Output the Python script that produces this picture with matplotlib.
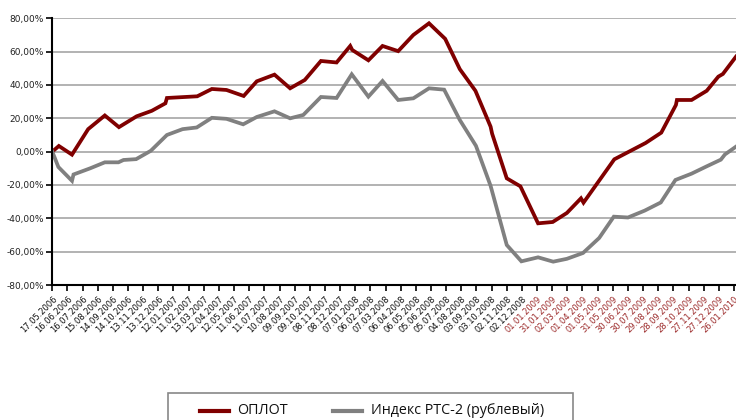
import matplotlib
matplotlib.use("Agg")
import matplotlib.pyplot as plt
from matplotlib.lines import Line2D
from matplotlib.patches import Rectangle

# dates on the x axis, one tick every 30 days starting 17.05.2006
tick_labels = [
    "17.05.2006", "16.06.2006", "16.07.2006", "15.08.2006", "14.09.2006",
    "14.10.2006", "13.11.2006", "13.12.2006", "12.01.2007", "11.02.2007",
    "13.03.2007", "12.04.2007", "12.05.2007", "11.06.2007", "11.07.2007",
    "10.08.2007", "09.09.2007", "09.10.2007", "08.11.2007", "08.12.2007",
    "07.01.2008", "06.02.2008", "07.03.2008", "06.04.2008", "06.05.2008",
    "05.06.2008", "05.07.2008", "04.08.2008", "03.09.2008", "03.10.2008",
    "02.11.2008", "02.12.2008", "01.01.2009", "31.01.2009", "02.03.2009",
    "01.04.2009", "01.05.2009", "31.05.2009", "30.06.2009", "30.07.2009",
    "29.08.2009", "28.09.2009", "28.10.2009", "27.11.2009", "27.12.2009",
    "26.01.2010",
]
first_red_label = "01.01.2009"

series_names = ["ОПЛОТ", "Индекс РТС-2 (рублевый)"]

# days since 17.05.2006 and cumulative return, %
oplot_days = [
    0, 13, 39, 71, 104, 132, 167, 197, 224, 227, 287, 316, 345, 379, 405,
    440, 471, 500, 532, 563, 590, 594, 626, 654, 685, 715, 746, 778, 807,
    838, 868, 871, 900, 927, 962, 991, 1019, 1047, 1052, 1113, 1144, 1175,
    1206, 1235, 1237, 1266, 1296, 1319, 1328, 1354,
]
oplot_values = [
    0, 3.4, -1.8, 13.5, 21.7, 14.7, 21.2, 24.5, 29, 32.2, 33.2, 37.6, 37,
    33.4, 42.2, 46.2, 38, 43, 54.4, 53.5, 63.4, 61, 54.8, 63.4, 60.3, 70,
    77, 67.7, 49.5, 36.5, 15, 10.8, -16, -20.8, -43, -42.2, -36.8, -28,
    -30.6, -4.6, 0.3, 5.2, 11.4, 28, 31, 31, 36.5, 45, 46.6, 57,
]

rts_days = [
    0, 12, 39, 42, 75, 104, 131, 141, 166, 195, 227, 258, 286, 316, 345,
    378, 405, 440, 471, 497, 532, 563, 593, 626, 654, 685, 715, 746, 776,
    807, 839, 868, 900, 929, 962, 992, 1019, 1051, 1083, 1112, 1140, 1173,
    1205, 1234, 1266, 1296, 1324, 1332, 1354,
]
rts_values = [
    0, -9.2, -17.5, -13.7, -10, -6.4, -6.4, -5, -4.5, 0.5, 10, 13.5, 14.5,
    20.3, 19.7, 16.4, 20.8, 24.2, 20, 22, 32.8, 32.2, 46.4, 33, 42.4, 31,
    32, 38, 37.2, 19, 3.5, -20.5, -56, -65.8, -63.4, -66, -64.3, -60.8,
    -51.8, -39, -39.5, -35.4, -30.5, -17, -13.2, -8.8, -4.8, -1.7, 3,
]

OPLOT_COLOR = "#800000"
RTS_COLOR = "#808080"
RED_LABEL = "#9c2b2b"

W, H = 736, 420
fig = plt.figure(figsize=(W / 100, H / 100), dpi=100)
ax = fig.add_axes([52.3 / W, 1 - 285 / H, 1 - 52.3 / W, (285 - 18.3) / H])

ax.plot(oplot_days, oplot_values, color=OPLOT_COLOR, lw=2.7, zorder=3,
        solid_joinstyle="miter")
ax.plot(rts_days, rts_values, color=RTS_COLOR, lw=2.7, zorder=4,
        solid_joinstyle="miter")

ax.set_xlim(0, 1354)
ax.set_ylim(-80, 80)

yticks = list(range(-80, 81, 20))
ax.set_yticks(yticks)
ax.set_yticklabels([f"{v:.2f}%".replace(".", ",") for v in yticks],
                   fontsize=6.5, color="#222222")

xticks = [30 * i for i in range(len(tick_labels))]
ax.set_xticks(xticks)
ax.set_xticklabels(tick_labels, rotation=45, ha="right", va="top",
                   rotation_mode="anchor", fontsize=6)
red_from = tick_labels.index(first_red_label)
for i, lbl in enumerate(ax.get_xticklabels()):
    lbl.set_color(RED_LABEL if i >= red_from else "#111111")

ax.tick_params(axis="both", direction="out", length=4, width=1.2,
               color="black", pad=2)
ax.tick_params(axis="x", pad=3)

ax.yaxis.grid(True, color="#a6a6a6", lw=1.2)
ax.set_axisbelow(True)
for side in ("top", "right"):
    ax.spines[side].set_visible(False)
for side in ("left", "bottom"):
    ax.spines[side].set_color("black")
    ax.spines[side].set_linewidth(1.5)
    ax.spines[side].set_zorder(5)

# legend box at the bottom, cut by the figure edge like the original
fig.add_artist(Rectangle((168 / W, 1 - 430 / H), (573 - 168) / W, 37 / H,
                         transform=fig.transFigure, facecolor="white",
                         edgecolor="#888888", lw=1.2))
ly = 1 - 411 / H
legend_items = [
    (series_names[0], OPLOT_COLOR, 200, 237),
    (series_names[1], RTS_COLOR, 333, 371),
]
for name, color, hx, tx in legend_items:
    fig.add_artist(Line2D([hx / W, (hx + 29) / W], [ly, ly],
                          transform=fig.transFigure, color=color, lw=3))
    fig.text(tx / W, ly, name, fontsize=10.3, family="Open Sans",
             va="center", ha="left", color="#111111")

fig.savefig("out.png", dpi=100)
